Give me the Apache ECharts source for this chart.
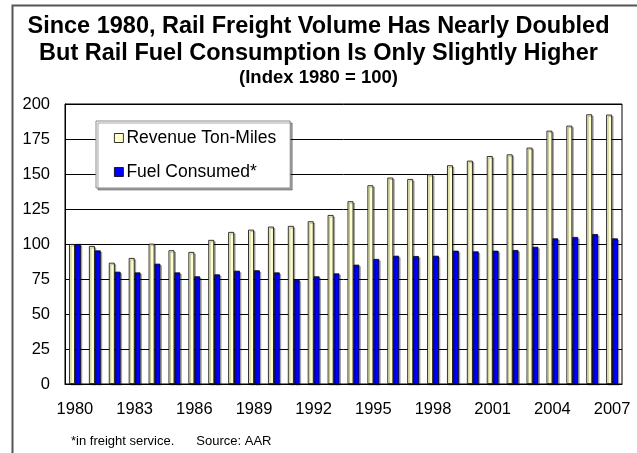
<!DOCTYPE html>
<html>
<head>
<meta charset="utf-8">
<script src="https://cdn.jsdelivr.net/npm/echarts@6/dist/echarts.min.js"></script>
<style>
html,body{margin:0;padding:0;background:#fff;}
#chart{width:637px;height:453px;}
</style>
</head>
<body>
<div id="chart"></div>
<script>
const years = ['1980','1981','1982','1983','1984','1985','1986','1987','1988','1989','1990','1991','1992','1993','1994','1995','1996','1997','1998','1999','2000','2001','2002','2003','2004','2005','2006','2007'];
const revenueTonMiles = [100, 98.6, 86.6, 90, 100.2, 95.5, 94.3, 102.9, 108.6, 110.2, 112.4, 112.9, 116.2, 120.7, 130.5, 141.9, 147.4, 146.4, 149.7, 156.2, 159.5, 162.8, 164, 168.8, 180.9, 184.5, 192.6, 192.4];
const fuelConsumed = [100, 95.4, 80.2, 79.7, 85.9, 79.7, 76.9, 78.3, 80.9, 81.2, 79.7, 74.5, 76.9, 79, 85.2, 89.3, 91.6, 91.4, 91.6, 95.2, 94.7, 95.2, 95.7, 98, 104, 105, 107.1, 104];
const yTicks = [0, 25, 50, 75, 100, 125, 150, 175, 200];
const titleLines = ['Since 1980, Rail Freight Volume Has Nearly Doubled', 'But Rail Fuel Consumption Is Only Slightly Higher'];
const subtitle = '(Index 1980 = 100)';
const seriesNames = ['Revenue Ton-Miles', 'Fuel Consumed*'];
const footnoteParts = ['*in freight service.', 'Source: AAR'];

const font = 'Arial, "Liberation Sans", sans-serif';
const chart = echarts.init(document.getElementById('chart'));
chart.setOption({
  animation: false,
  backgroundColor: '#fff',
  title: [
    { text: titleLines.join('\n'), left: 'center', top: 8, padding: [5, 0, 5, 14],
      textStyle: { fontFamily: font, fontSize: 23.5, fontWeight: 'bold', color: '#000', lineHeight: 27 } },
    { text: subtitle, left: 'center', top: 63, padding: [5, 0, 5, 4],
      textStyle: { fontFamily: font, fontSize: 18.5, fontWeight: 'bold', color: '#000' } },
    { text: '{a|' + footnoteParts[0] + '}{b|' + footnoteParts[1] + '}', left: 66, top: 430,
      textStyle: { fontFamily: font, fontSize: 13, fontWeight: 'normal', color: '#000',
        rich: { a: { fontFamily: font, fontSize: 13, color: '#000' },
                b: { fontFamily: font, fontSize: 13, color: '#000', padding: [0, 0, 0, 22] } } } }
  ],
  legend: {
    orient: 'vertical', left: 96, top: 121, width: 206,
    padding: [8, 14, 7, 18], itemGap: 16,
    itemWidth: 9, itemHeight: 9, icon: 'rect',
    backgroundColor: '#fff', borderColor: '#888', borderWidth: 1,
    shadowColor: 'rgba(0,0,0,0.35)', shadowOffsetX: 2, shadowOffsetY: 2, shadowBlur: 0,
    textStyle: { fontFamily: font, fontSize: 17.5, color: '#000', padding: [0, 0, 0, -2] },
    itemStyle: { borderColor: '#000', borderWidth: 0.8 },
    data: seriesNames
  },
  grid: { left: 65, right: 15, top: 104, bottom: 69, show: true, borderColor: '#000', borderWidth: 1 },
  xAxis: {
    type: 'category', data: years,
    axisLine: { lineStyle: { color: '#000' } },
    axisTick: { show: false },
    axisLabel: { interval: 2, fontFamily: font, fontSize: 16.5, color: '#000', margin: 17 }
  },
  yAxis: {
    type: 'value', min: 0, max: 200, interval: 25,
    axisLine: { show: true, lineStyle: { color: '#000' } },
    axisTick: { show: false },
    splitLine: { lineStyle: { color: '#000', width: 1 } },
    axisLabel: { fontFamily: font, fontSize: 16.5, color: '#000', margin: 15,
      formatter: v => yTicks.includes(v) ? String(v) : '' }
  },
  series: [
    { name: seriesNames[0], type: 'bar', data: revenueTonMiles, barGap: '0%', barCategoryGap: '41%',
      itemStyle: { color: '#FFFFCC', borderColor: '#000', borderWidth: 0.8,
        shadowColor: 'rgba(0,0,0,0.3)', shadowOffsetX: 1.5, shadowOffsetY: 1.5 } },
    { name: seriesNames[1], type: 'bar', data: fuelConsumed,
      itemStyle: { color: '#0000FF', borderColor: '#000', borderWidth: 0.8,
        shadowColor: 'rgba(0,0,0,0.3)', shadowOffsetX: 1.5, shadowOffsetY: 1.5 } }
  ],
  graphic: [
    { type: 'rect', left: 10, top: 3, shape: { width: 640, height: 470 }, silent: true, z: -10,
      style: { fill: 'none', stroke: '#555', lineWidth: 2 } }
  ]
});
</script>
</body>
</html>
